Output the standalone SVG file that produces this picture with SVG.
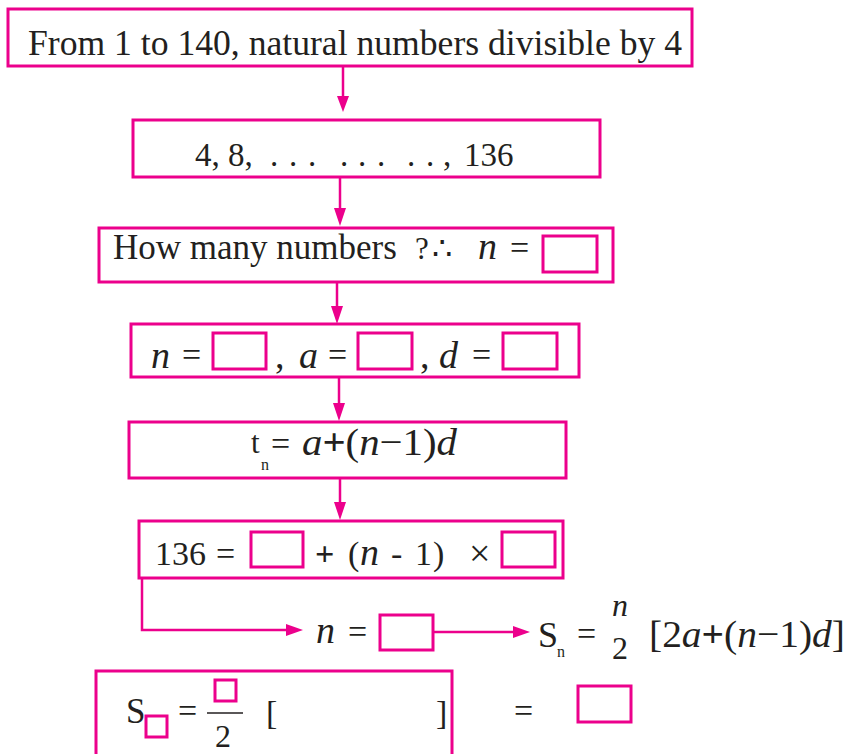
<svg xmlns="http://www.w3.org/2000/svg" width="849" height="754" viewBox="0 0 849 754">
<defs>
<style>
.box{fill:none;stroke:#EC008C;stroke-width:3}
.ib{fill:#fff;stroke:#EC008C;stroke-width:3}
.ln{fill:none;stroke:#EC008C;stroke-width:2.5}
.ah{fill:#EC008C}
text{font-family:"Liberation Serif","Times New Roman",serif;fill:#231F20;font-size:34px}
.i{font-style:italic;font-size:38px}
.s{font-size:16px}
.d{font-size:33px}
</style>
</defs>
<rect width="849" height="754" fill="#fff"/>
<g id="connectors">
<line class="ln" x1="343" y1="66" x2="343" y2="100"/><polygon class="ah" points="343,112 337,96 349,96"/>
<line class="ln" x1="340" y1="177" x2="340" y2="212"/><polygon class="ah" points="340,226 334,208 346,208"/>
<line class="ln" x1="337" y1="282" x2="337" y2="310"/><polygon class="ah" points="337,324 331,306 343,306"/>
<line class="ln" x1="339" y1="377" x2="339" y2="407"/><polygon class="ah" points="339,421 333,403 345,403"/>
<line class="ln" x1="340" y1="478" x2="340" y2="506"/><polygon class="ah" points="340,520 334,502 346,502"/>
<path class="ln" d="M142 578 V630 H290"/><polygon class="ah" points="303,630 286,624 286,636"/>
<line class="ln" x1="433" y1="632" x2="517" y2="632"/><polygon class="ah" points="530,632 513,626 513,638"/>
</g>
<g id="n1">
<rect class="box" x="8" y="9" width="684" height="57"/>
<text x="28" y="55" style="font-size:35px" textLength="654" lengthAdjust="spacingAndGlyphs">From 1 to 140, natural numbers divisible by 4</text>
</g>
<g id="n2">
<rect class="box" x="133" y="120" width="467" height="57"/>
<text x="195" y="166" class="d">4, 8,</text>
<text x="270" y="166" class="d">.</text>
<text x="289" y="166" class="d">.</text>
<text x="308" y="166" class="d">.</text>
<text x="340" y="166" class="d">.</text>
<text x="358" y="166" class="d">.</text>
<text x="377" y="166" class="d">.</text>
<text x="407" y="166" class="d">.</text>
<text x="426" y="166" class="d">.</text>
<text x="443" y="166" class="d">,</text>
<text x="464" y="166" class="d">136</text>
</g>
<g id="n3">
<rect class="box" x="99" y="228" width="514" height="54"/>
<text x="113" y="259" style="font-size:35px">How many numbers</text>
<text x="415" y="259" style="font-size:31px">?</text>
<text x="432" y="259" style="font-size:32px">∴</text>
<text x="478" y="259" class="i">n</text>
<text x="510" y="259">=</text>
<rect class="ib" x="543" y="236" width="54" height="36"/>
</g>
<g id="n4">
<rect class="box" x="131" y="324" width="448" height="53"/>
<text x="151" y="368" class="i">n</text>
<text x="182" y="366">=</text>
<rect class="ib" x="213" y="333" width="53" height="36"/>
<text x="275" y="368" style="font-size:38px">,</text>
<text x="299" y="368" class="i">a</text>
<text x="328" y="366">=</text>
<rect class="ib" x="358" y="333" width="54" height="36"/>
<text x="420" y="368" style="font-size:38px">,</text>
<text x="439" y="368" class="i">d</text>
<text x="472" y="366">=</text>
<rect class="ib" x="503" y="333" width="54" height="36"/>
</g>
<g id="n5">
<rect class="box" x="129" y="422" width="437" height="56"/>
<text x="251" y="453" style="font-size:31px">t</text>
<text x="261" y="470" class="s">n</text>
<text x="271" y="455">=</text>
<text x="302" y="455" style="font-size:38px" textLength="155" lengthAdjust="spacingAndGlyphs"><tspan font-style="italic">a</tspan><tspan font-weight="bold">+</tspan>(<tspan font-style="italic">n</tspan>−1)<tspan font-style="italic">d</tspan></text>
</g>
<g id="n6">
<rect class="box" x="139" y="521" width="424" height="57"/>
<text x="155" y="565">136</text>
<text x="216" y="565">=</text>
<rect class="ib" x="251" y="532" width="52" height="35"/>
<text x="315" y="565" font-weight="bold">+</text>
<text x="348" y="565">(</text>
<text x="360" y="565" class="i">n</text>
<text x="391" y="565">-</text>
<text x="415" y="565">1</text>
<text x="433" y="565">)</text>
<text x="469" y="566" style="font-size:38px">×</text>
<rect class="ib" x="502" y="532" width="53" height="35"/>
</g>
<g id="n7">
<text x="316" y="643" class="i">n</text>
<text x="348" y="643">=</text>
<rect class="ib" x="380" y="615" width="53" height="35"/>
</g>
<g id="n8">
<text x="538" y="647" style="font-size:36px">S</text>
<text x="557" y="657" class="s">n</text>
<text x="577" y="645">=</text>
<text x="612" y="616" class="i" style="font-size:32px">n</text>
<text x="612" y="659" style="font-size:32px">2</text>
<text x="649" y="647" style="font-size:38px" textLength="196" lengthAdjust="spacingAndGlyphs">[2<tspan font-style="italic">a</tspan><tspan font-weight="bold">+</tspan>(<tspan font-style="italic">n</tspan>−1)<tspan font-style="italic">d</tspan>]</text>
</g>
<g id="n9">
<path class="box" d="M96 756 V671 H452 V756"/>
<text x="126" y="723" style="font-size:35px">S</text>
<rect class="ib" x="146" y="716" width="21" height="21"/>
<text x="178" y="722">=</text>
<rect class="ib" x="215" y="680" width="21" height="21"/>
<line x1="207" y1="713" x2="243" y2="713" stroke="#231F20" stroke-width="1.5"/>
<text x="215" y="747" style="font-size:32px">2</text>
<text x="266" y="724">[</text>
<text x="436" y="724">]</text>
</g>
<g id="n10">
<text x="514" y="722">=</text>
<rect class="ib" x="578" y="686" width="53" height="36"/>
</g>
</svg>
